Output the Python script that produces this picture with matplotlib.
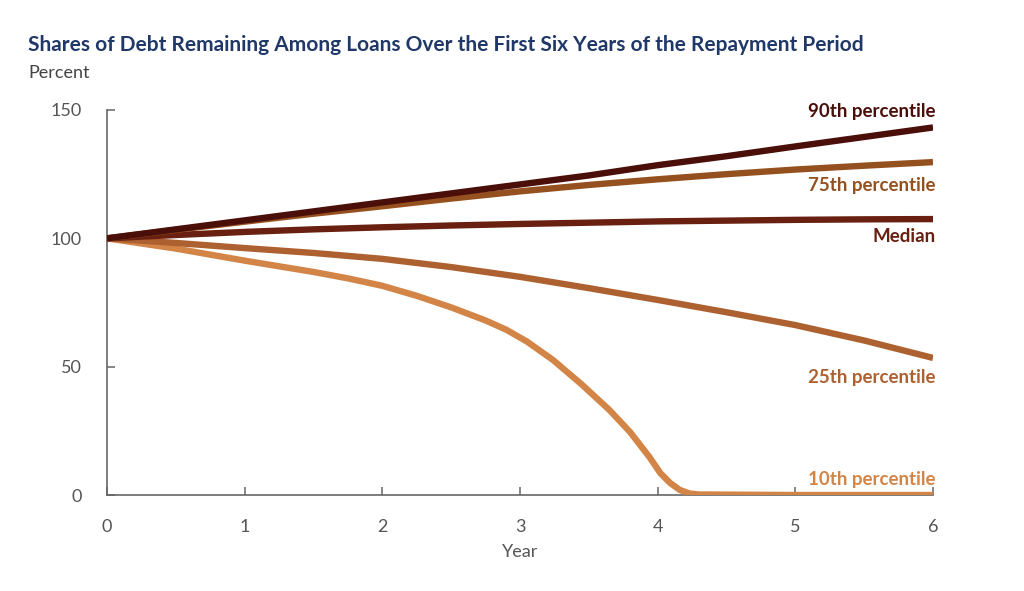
import numpy as np
from matplotlib import pyplot as plt

# data (year, percent of debt remaining)
years = [0, 0.5, 1, 1.5, 2, 2.5, 3, 3.5, 4, 4.5, 5, 5.5, 6]
p90 = [100, 103.5, 107, 110.5, 114, 117.5, 121, 124.5, 128.5, 132, 135.8, 139.5, 143.2]
p75 = [100, 103.3, 106.5, 109.6, 112.5, 115.5, 118.3, 120.8, 123, 125, 126.8, 128.3, 129.7]
median = [100, 101.3, 102.5, 103.5, 104.3, 105, 105.6, 106.1, 106.6, 106.9, 107.2, 107.4, 107.5]
p25 = [100, 98.2, 96.2, 94.3, 92.0, 88.8, 85.0, 80.6, 76.0, 71.2, 66.2, 60.2, 53.4]

years10 = [0, 0.5, 1, 1.5, 1.75, 2, 2.25, 2.5, 2.75, 2.9, 3.05, 3.24, 3.45, 3.65, 3.8,
           3.94, 4.02, 4.09, 4.16, 4.23, 4.3, 5, 6]
p10 = [100, 96, 91.3, 86.9, 84.4, 81.5, 77.6, 73.1, 68.0, 64.4, 59.8, 52.6, 43, 33.1, 24.5,
       14.8, 8.5, 4.7, 2.0, 0.6, 0.2, 0, 0]

series = [
    ('90th percentile', years, p90, '#4b0f0a', 112),
    ('75th percentile', years, p75, '#95501f', 185),
    ('Median', years, median, '#6a2010', 236),
    ('25th percentile', years, p25, '#ae6130', 377),
    ('10th percentile', years10, p10, '#d38547', 479),
]

plt.rcParams['font.family'] = ['Lato', 'DejaVu Sans']

fig = plt.figure(figsize=(10.24, 5.91), dpi=100)
ax = fig.add_axes([107/1024, 1-495/591, (933-107)/1024, (495-110)/591])

for name, x, y, col, ypix in series[::-1]:
    ax.plot(x, y, color=col, lw=4.6, solid_capstyle='butt', zorder=3)
    fig.text(936/1024, 1-ypix/591, name, color=col, fontsize=13.5, fontweight='bold',
             ha='right', va='center')

ax.set_xlim(0, 6)
ax.set_ylim(0, 150)
ax.set_xticks(range(7))
ax.set_yticks([0, 50, 100, 150])
for s in ['top', 'right']:
    ax.spines[s].set_visible(False)
for s in ['left', 'bottom']:
    ax.spines[s].set_color('#666666')
    ax.spines[s].set_linewidth(1.2)
ax.tick_params(direction='in', length=6, width=1.1, color='#666666',
               labelcolor='#555555', labelsize=13, pad=17)
ax.tick_params(axis='y', pad=18)
ax.set_xlabel('Year', fontsize=13, color='#555555', labelpad=7)

fig.text(28/1024, 1-45/591, 'Shares of Debt Remaining Among Loans Over the First Six Years of the Repayment Period',
         color='#1f3868', fontsize=15, fontweight='bold', va='center', ha='left')
fig.text(28/1024, 1-73/591, 'Percent', color='#444444', fontsize=13, va='center', ha='left')

fig.savefig('out.png', dpi=100)
